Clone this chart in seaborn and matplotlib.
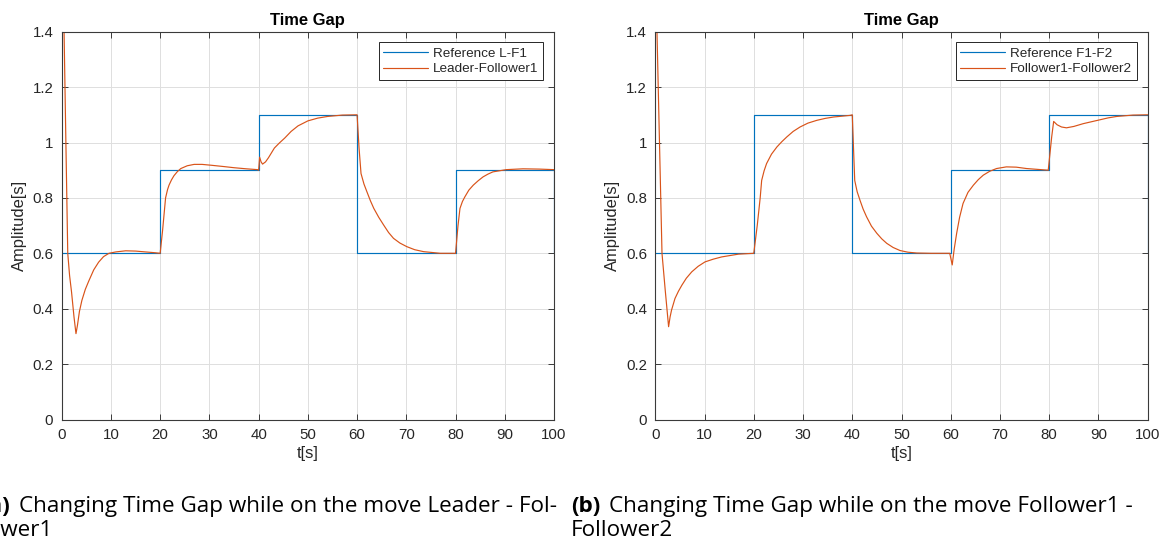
import numpy as np
import pandas as pd
import matplotlib
matplotlib.use("Agg")
import matplotlib.pyplot as plt
import seaborn as sns

# ---------------- data ----------------
ref_t = [0, 20, 20, 40, 40, 60, 60, 80, 80, 100, 100]
ref_lf1 = [0.6, 0.6, 0.9, 0.9, 1.1, 1.1, 0.6, 0.6, 0.9, 0.9, 0.6]
ref_f1f2 = [0.6, 0.6, 1.1, 1.1, 0.6, 0.6, 0.9, 0.9, 1.1, 1.1, 0.6]

lf1_t = [0, 0.48, 0.85, 1.23, 1.6, 2.0, 2.5, 2.9, 3.2, 3.6, 4.1, 4.8, 5.5, 6.5, 7.5, 8.5, 9.6,
         11, 13, 15, 17, 19, 20,
         20.5, 21.1, 21.5, 21.8, 22.3, 22.8, 23.5, 24.2, 25.5, 26.9, 28.5, 30.3, 33, 35, 37.5, 39.8, 40,
         40.2, 40.5, 40.8, 41.4, 42, 43.2, 44.2, 45.3, 46.6, 48, 50, 52, 54, 57, 60,
         60.4, 60.8, 61.4, 62, 62.7, 63.4, 64.4, 65.4, 66.4, 67.4, 68.7, 70.1, 71.7, 73.5, 76.9, 80,
         80.5, 80.9, 81.4, 81.9, 82.7, 83.6, 84.6, 85.6, 86.6, 87.6, 90.3, 93.7, 97, 100]
lf1_v = [1.9, 1.4, 1.0, 0.6, 0.52, 0.46, 0.37, 0.31, 0.34, 0.39, 0.43, 0.47, 0.5, 0.54, 0.568, 0.588, 0.6,
         0.605, 0.609, 0.608, 0.605, 0.602, 0.6,
         0.684, 0.8, 0.83, 0.846, 0.865, 0.88, 0.895, 0.906, 0.916, 0.921, 0.921, 0.918, 0.913, 0.909, 0.905, 0.902, 0.9,
         0.947, 0.93, 0.922, 0.93, 0.945, 0.98, 0.998, 1.016, 1.04, 1.06, 1.078, 1.088, 1.094, 1.099, 1.1,
         0.98, 0.888, 0.85, 0.822, 0.79, 0.762, 0.73, 0.702, 0.675, 0.654, 0.637, 0.624, 0.613, 0.606, 0.6, 0.6,
         0.7, 0.762, 0.787, 0.804, 0.828, 0.846, 0.862, 0.876, 0.886, 0.894, 0.902, 0.905, 0.904, 0.902]

f1f2_t = [0, 0.34, 0.85, 1.36, 2.0, 2.7, 3.0, 3.3, 4.0, 4.7, 5.4, 6.3, 7.4, 8.7, 10.1, 11.8, 13.5, 16.9, 20,
          20.7, 21.3, 21.6, 22.1, 22.6, 23.6, 24.7, 25.7, 26.7, 28, 29.4, 31, 32.8, 34.5, 36.2, 39.6, 40,
          40.5, 41.0, 41.6, 42.2, 42.9, 43.9, 45, 46, 47, 48.3, 49.7, 51.3, 53.1, 56, 59.8,
          60.3, 60.7, 61.2, 61.8, 62.5, 63.5, 64.6, 65.6, 66.6, 67.9, 69.3, 71.3, 73.3, 75.4, 79.8,
          80.5, 80.9, 81.6, 82.5, 83.5, 85, 86.9, 88.6, 90.3, 92, 93.7, 97, 100]
f1f2_v = [1.75, 1.4, 1.0, 0.6, 0.47, 0.335, 0.37, 0.395, 0.437, 0.463, 0.485, 0.51, 0.533, 0.553, 0.569, 0.579, 0.587, 0.597, 0.6,
          0.7, 0.8, 0.863, 0.898, 0.924, 0.958, 0.984, 1.003, 1.02, 1.04, 1.056, 1.07, 1.08, 1.087, 1.092, 1.098, 1.1,
          0.863, 0.822, 0.79, 0.76, 0.732, 0.698, 0.672, 0.652, 0.636, 0.621, 0.61, 0.604, 0.601, 0.6, 0.6,
          0.558, 0.615, 0.672, 0.73, 0.78, 0.82, 0.846, 0.866, 0.882, 0.896, 0.906, 0.912, 0.911, 0.906, 0.9,
          1.02, 1.076, 1.064, 1.056, 1.053, 1.058, 1.068, 1.075, 1.082, 1.089, 1.094, 1.099, 1.1]

x_ticks = [0, 10, 20, 30, 40, 50, 60, 70, 80, 90, 100]
y_ticks = [0, 0.2, 0.4, 0.6, 0.8, 1.0, 1.2, 1.4]
y_ticklabels = ["0", "0.2", "0.4", "0.6", "0.8", "1", "1.2", "1.4"]

# ---------------- style ----------------
sns.set_theme(style="white")
plt.rcParams['font.family'] = ['Liberation Sans', 'DejaVu Sans']

BLUE = '#0072BD'
ORANGE = '#D95319'
DARK = '#262626'

W, H = 1169, 542
fig = plt.figure(figsize=(W / 100, H / 100), dpi=100)


def px_axes(x0, x1, ytop, ybot):
    return [x0 / W, (H - ybot) / H, (x1 - x0) / W, (ybot - ytop) / H]


ax_l = fig.add_axes(px_axes(61.7, 554, 31.7, 419.5))
ax_r = fig.add_axes(px_axes(655.3, 1147.7, 31.7, 419.5))

panels = [
    (ax_l, ref_lf1, lf1_t, lf1_v, 'Reference L-F1', 'Leader-Follower1'),
    (ax_r, ref_f1f2, f1f2_t, f1f2_v, 'Reference F1-F2', 'Follower1-Follower2'),
]

for ax, ref_v, ot, ov, ref_lab, o_lab in panels:
    df_ref = pd.DataFrame({'t': ref_t, 'v': ref_v})
    df_o = pd.DataFrame({'t': ot, 'v': ov})
    sns.lineplot(data=df_ref, x='t', y='v', ax=ax, color=BLUE, linewidth=0.85,
                 estimator=None, sort=False, label=ref_lab)
    sns.lineplot(data=df_o, x='t', y='v', ax=ax, color=ORANGE, linewidth=0.85,
                 estimator=None, sort=False, label=o_lab)
    ax.set_xlim(0, 100)
    ax.set_ylim(0, 1.4)
    ax.set_xticks(x_ticks)
    ax.set_xticklabels([str(x) for x in x_ticks])
    ax.set_yticks(y_ticks)
    ax.set_yticklabels(y_ticklabels)
    ax.grid(True, color='#DEDEDE', linewidth=0.7)
    ax.set_axisbelow(True)
    for s in ax.spines.values():
        s.set_color('#3a3a3a')
        s.set_linewidth(0.8)
        s.set_visible(True)
    ax.tick_params(direction='in', length=4, width=0.7, color='#3a3a3a',
                   top=True, right=True, bottom=True, left=True,
                   labelsize=10.8, labelcolor=DARK, pad=6)
    ax.set_xlabel('t[s]', fontsize=11.9, color=DARK, labelpad=3)
    ax.set_ylabel('Amplitude[s]', fontsize=11.9, color=DARK, labelpad=4)
    ax.set_title('Time Gap', fontsize=11.9, fontweight='bold', color='black', pad=5)
    leg = ax.legend(loc='upper right', fontsize=9.7, frameon=True, fancybox=False,
                    framealpha=1, edgecolor=DARK, handlelength=3.3,
                    borderaxespad=0.8, borderpad=0.35, labelspacing=0.25,
                    handletextpad=0.4)
    leg.get_frame().set_linewidth(0.7)
    for txt in leg.get_texts():
        txt.set_color(DARK)

# ---------------- captions ----------------
cap_font = ['Open Sans', 'DejaVu Sans']
cap_size = 16.2
renderer = fig.canvas.get_renderer()


def caption(x_px, y1_px, label, line1, line2):
    t_b = fig.text(x_px / W, (H - y1_px) / H, label, fontsize=cap_size,
                   fontweight='bold', family=cap_font, color='black', va='baseline')
    bb = t_b.get_window_extent(renderer=renderer)
    fig.text((bb.x1 + 9) / W, (H - y1_px) / H, line1, fontsize=cap_size,
             family=cap_font, color='black', va='baseline')
    fig.text(x_px / W, (H - y1_px - 24) / H, line2, fontsize=cap_size,
             family=cap_font, color='black', va='baseline')


caption(-19, 512, '(a)', 'Changing Time Gap while on the move Leader - Fol-', 'lower1')
caption(571, 512, '(b)', 'Changing Time Gap while on the move Follower1 -', 'Follower2')

fig.savefig('out.png', dpi=100)
